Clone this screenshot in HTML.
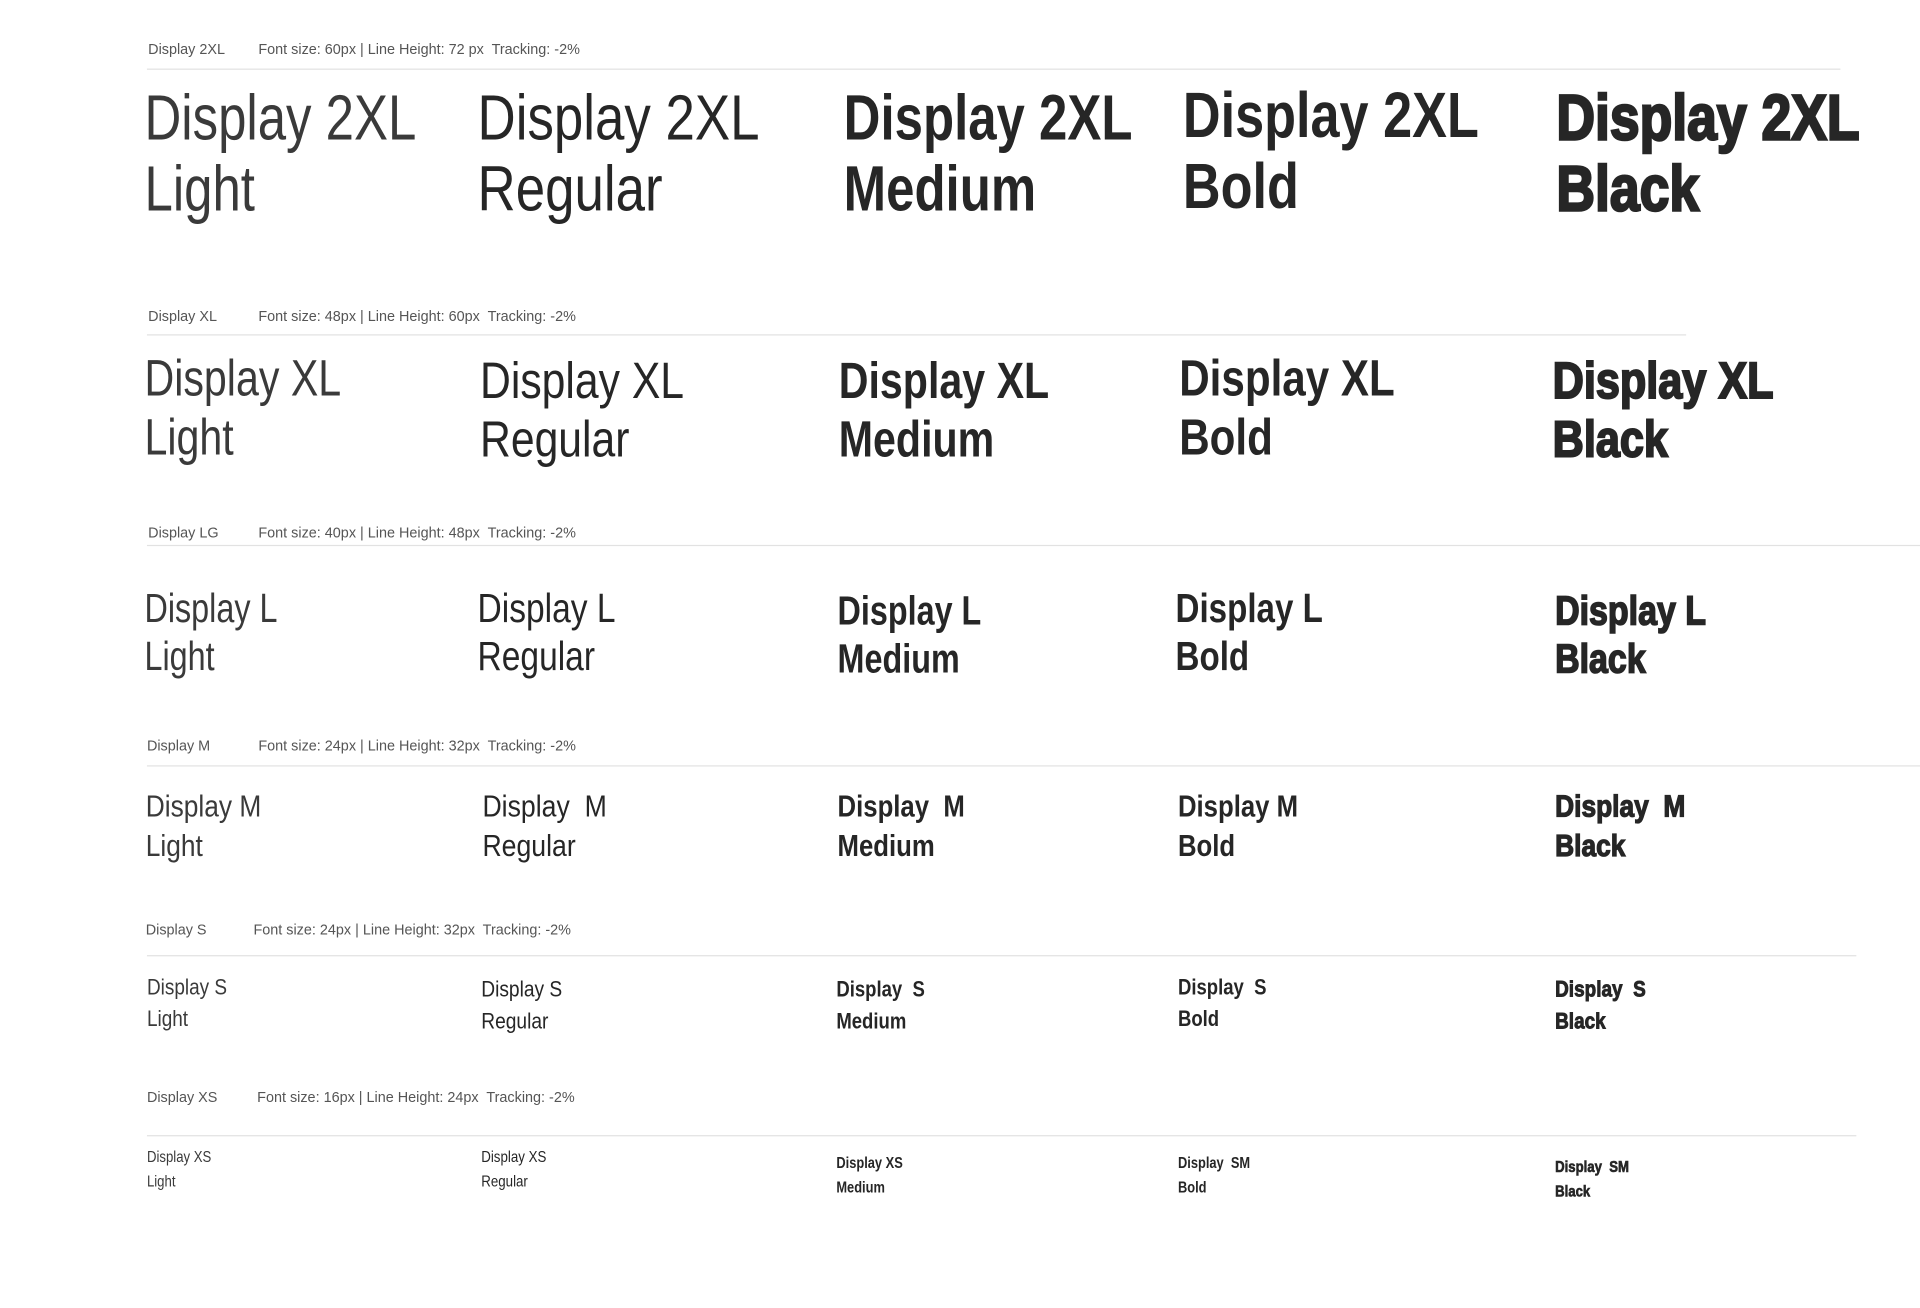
<!DOCTYPE html>
<html><head><meta charset="utf-8"><style>
html,body{margin:0;padding:0;background:#fff;width:1920px;height:1308px;overflow:hidden}
#c{position:absolute;left:0;top:0;width:1568px;height:1068px;transform:scale(1.2245);transform-origin:0 0;font-family:"Liberation Sans",sans-serif;color:#262626}
.t{position:absolute;white-space:nowrap;transform-origin:0 0}
.lb{font-size:12px;line-height:14px;color:#555;transform:scaleX(.98)}
.hr{position:absolute;height:1px;background:#e2e2e2}
.L{font-weight:400;color:#3a3a3a;transform:scaleX(.80)}
.R{font-weight:400;transform:scaleX(.83)}
.M{font-weight:700;transform:scaleX(.80)}
.B{font-weight:700;transform:scaleX(.82)}
.K{font-weight:700;-webkit-text-stroke:.04em #262626;transform:scaleX(.84)}
.s .L{transform:scaleX(.86)}
.s .R{transform:scaleX(.87)}
.s .M,.s .B{transform:scaleX(.84)}
.s .K{transform:scaleX(.86)}
</style></head><body><div id="c">

<div class="t lb" style="left:121px;top:33px">Display 2XL</div>
<div class="t lb" style="left:211px;top:33px">Font size: 60px | Line Height: 72 px&nbsp; Tracking: -2%</div>
<div class="hr" style="left:120px;top:56px;width:1383px"></div>
<div class="t L" style="left:118px;top:68px;font-size:52px;line-height:58px">Display 2XL<br>Light</div>
<div class="t R" style="left:390px;top:68px;font-size:52px;line-height:58px">Display 2XL<br>Regular</div>
<div class="t M" style="left:689px;top:68px;font-size:52px;line-height:58px">Display 2XL<br>Medium</div>
<div class="t B" style="left:966px;top:66px;font-size:52px;line-height:58px">Display 2XL<br>Bold</div>
<div class="t K" style="left:1271px;top:68px;font-size:52px;line-height:58px">Display 2XL<br>Black</div>

<div class="t lb" style="left:121px;top:251px">Display XL</div>
<div class="t lb" style="left:211px;top:251px">Font size: 48px | Line Height: 60px&nbsp; Tracking: -2%</div>
<div class="hr" style="left:120px;top:273px;width:1257px"></div>
<div class="t L" style="left:118px;top:285px;font-size:42px;line-height:48px">Display XL<br>Light</div>
<div class="t R" style="left:392px;top:287px;font-size:42px;line-height:48px">Display XL<br>Regular</div>
<div class="t M" style="left:685px;top:287px;font-size:42px;line-height:48px">Display XL<br>Medium</div>
<div class="t B" style="left:963px;top:285px;font-size:42px;line-height:48px">Display XL<br>Bold</div>
<div class="t K" style="left:1268px;top:287px;font-size:42px;line-height:48px">Display XL<br>Black</div>

<div class="t lb" style="left:121px;top:428px">Display LG</div>
<div class="t lb" style="left:211px;top:428px">Font size: 40px | Line Height: 48px&nbsp; Tracking: -2%</div>
<div class="hr" style="left:120px;top:445px;width:1448px"></div>
<div class="t L" style="left:118px;top:477px;font-size:33px;line-height:39px">Display L<br>Light</div>
<div class="t R" style="left:390px;top:477px;font-size:33px;line-height:39px">Display L<br>Regular</div>
<div class="t M" style="left:684px;top:479px;font-size:33px;line-height:39px">Display L<br>Medium</div>
<div class="t B" style="left:960px;top:477px;font-size:33px;line-height:39px">Display L<br>Bold</div>
<div class="t K" style="left:1270px;top:479px;font-size:33px;line-height:39px">Display L<br>Black</div>

<div class="s">
<div class="t lb" style="left:120px;top:602px">Display M</div>
<div class="t lb" style="left:211px;top:602px">Font size: 24px | Line Height: 32px&nbsp; Tracking: -2%</div>
<div class="hr" style="left:120px;top:625px;width:1448px"></div>
<div class="t L" style="left:119px;top:643px;font-size:25px;line-height:32px">Display M<br>Light</div>
<div class="t R" style="left:394px;top:643px;font-size:25px;line-height:32px">Display&nbsp; M<br>Regular</div>
<div class="t M" style="left:684px;top:643px;font-size:25px;line-height:32px">Display&nbsp; M<br>Medium</div>
<div class="t B" style="left:962px;top:643px;font-size:25px;line-height:32px">Display M<br>Bold</div>
<div class="t K" style="left:1270px;top:643px;font-size:25px;line-height:32px">Display&nbsp; M<br>Black</div>

<div class="t lb" style="left:119px;top:752px">Display S</div>
<div class="t lb" style="left:207px;top:752px">Font size: 24px | Line Height: 32px&nbsp; Tracking: -2%</div>
<div class="hr" style="left:120px;top:780px;width:1396px"></div>
<div class="t L" style="left:120px;top:793px;font-size:18px;line-height:26px">Display S<br>Light</div>
<div class="t R" style="left:393px;top:795px;font-size:18px;line-height:26px">Display S<br>Regular</div>
<div class="t M" style="left:683px;top:795px;font-size:18px;line-height:26px">Display&nbsp; S<br>Medium</div>
<div class="t B" style="left:962px;top:793px;font-size:18px;line-height:26px">Display&nbsp; S<br>Bold</div>
<div class="t K" style="left:1270px;top:795px;font-size:18px;line-height:26px">Display&nbsp; S<br>Black</div>

<div class="t lb" style="left:120px;top:889px">Display XS</div>
<div class="t lb" style="left:210px;top:889px">Font size: 16px | Line Height: 24px&nbsp; Tracking: -2%</div>
<div class="hr" style="left:120px;top:927px;width:1396px"></div>
<div class="t L" style="left:120px;top:935px;font-size:12.5px;line-height:20px">Display XS<br>Light</div>
<div class="t R" style="left:393px;top:935px;font-size:12.5px;line-height:20px">Display XS<br>Regular</div>
<div class="t M" style="left:683px;top:940px;font-size:12.5px;line-height:20px">Display XS<br>Medium</div>
<div class="t B" style="left:962px;top:940px;font-size:12.5px;line-height:20px">Display&nbsp; SM<br>Bold</div>
<div class="t K" style="left:1270px;top:943px;font-size:12.5px;line-height:20px">Display&nbsp; SM<br>Black</div>
</div>

</div></body></html>
